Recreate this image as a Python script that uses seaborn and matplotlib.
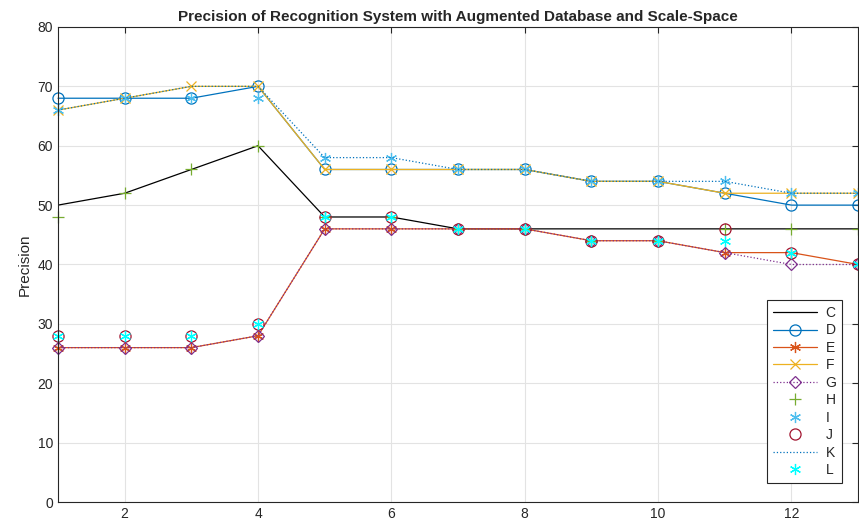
import matplotlib
matplotlib.use("Agg")
import matplotlib.pyplot as plt
import seaborn as sns
import pandas as pd

x = list(range(1, 14))
C = [50, 52, 56, 60, 48, 48, 46, 46, 46, 46, 46, 46, 46]
D = [68, 68, 68, 70, 56, 56, 56, 56, 54, 54, 52, 50, 50]
E = [26, 26, 26, 28, 46, 46, 46, 46, 44, 44, 42, 42, 40]
F = [66, 68, 70, 70, 56, 56, 56, 56, 54, 54, 52, 52, 52]
G = [26, 26, 26, 28, 46, 46, 46, 46, 44, 44, 42, 40, 40]
H = [48, 52, 56, 60, 48, 48, 46, 46, 44, 44, 46, 46, 46]
I = [66, 68, 68, 68, 58, 58, 56, 56, 54, 54, 54, 52, 52]
J = [28, 28, 28, 30, 48, 48, 46, 46, 44, 44, 46, 42, 40]
K = [66, 68, 70, 70, 58, 58, 56, 56, 54, 54, 54, 52, 52]
L = [28, 28, 28, 30, 48, 48, 46, 46, 44, 44, 44, 42, 40]

series_names = ["C", "D", "E", "F", "G", "H", "I", "J", "K", "L"]
series_vals = [C, D, E, F, G, H, I, J, K, L]

title = "Precision of Recognition System with Augmented Database and Scale-Space"
ylabel = "Precision"
xticks = [2, 4, 6, 8, 10, 12]
yticks = [0, 10, 20, 30, 40, 50, 60, 70, 80]

asterisk = (6, 2, 0)
styles = {
    "C": dict(color="black", linestyle="-", marker=None),
    "D": dict(color="#0072BD", linestyle="-", marker="o", mfc="none"),
    "E": dict(color="#D95319", linestyle="-", marker=asterisk),
    "F": dict(color="#EDB120", linestyle="-", marker="x", ms=7),
    "G": dict(color="#7E2F8E", linestyle=":", marker="D", mfc="none", ms=6.5),
    "H": dict(color="#77AC30", linestyle="none", marker="+"),
    "I": dict(color="#4DBEEE", linestyle="none", marker=asterisk),
    "J": dict(color="#A2142F", linestyle="none", marker="o", mfc="none"),
    "K": dict(color="#0072BD", linestyle=":", marker=None),
    "L": dict(color="#00FFFF", linestyle="none", marker=asterisk),
}

sns.set_style("white")
plt.rcParams["font.family"] = ["Liberation Sans", "DejaVu Sans"]

fig = plt.figure(figsize=(8.59, 5.31), dpi=100)
ax = fig.add_axes([0.0675, 0.0546, 0.9315, 0.8946])

for name, vals in zip(series_names, series_vals):
    st = dict(styles[name])
    df = pd.DataFrame({"x": x, "y": vals})
    ms = st.pop("ms", 8)
    mfc = st.pop("mfc", None)
    kw = dict(color=st["color"], linestyle=st["linestyle"], linewidth=0.9)
    if st["marker"] is not None:
        kw.update(marker=st["marker"], markersize=ms, markeredgewidth=0.9,
                  markeredgecolor=st["color"],
                  markerfacecolor=(mfc if mfc is not None else st["color"]))
    sns.lineplot(data=df, x="x", y="y", ax=ax, label=name, **kw)

for ln in ax.get_lines():
    if ln.get_marker() not in (None, "None", ""):
        ln.set_clip_on(False)

ax.set_xlim(1, 13)
ax.set_ylim(0, 80)
ax.set_xticks(xticks)
ax.set_yticks(yticks)
ax.grid(True, color="#e3e3e3", linewidth=0.8)
ax.set_axisbelow(True)
ax.set_xlabel("")
ax.set_ylabel(ylabel, fontsize=11, color="#262626")
ax.set_title(title, fontsize=11, fontweight="bold", pad=4)
ax.tick_params(direction="in", length=4, width=0.8, colors="#262626",
               labelsize=10, top=True, right=True)
for sp in ax.spines.values():
    sp.set_color("#262626")
    sp.set_linewidth(0.8)
    sp.set_visible(True)

leg = ax.legend(loc="lower right", bbox_to_anchor=(0.9885, 0.026),
                fancybox=False, framealpha=1, edgecolor="#262626",
                fontsize=10, handlelength=3.2, labelspacing=0.25,
                borderpad=0.4, handletextpad=0.6)
leg.get_frame().set_linewidth(0.8)
leg.set_zorder(10)

fig.savefig("out.png", dpi=100)
